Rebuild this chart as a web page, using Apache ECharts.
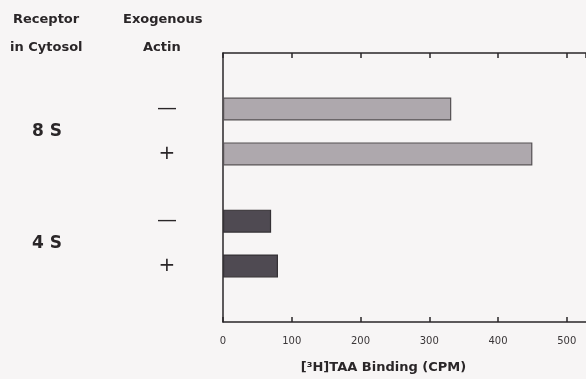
<!DOCTYPE html>
<html><head><meta charset="utf-8">
<script src="https://cdn.jsdelivr.net/npm/echarts@6/dist/echarts.min.js"></script>
<style>html,body{margin:0;padding:0;background:#f7f5f5}#c{width:586px;height:379px}</style>
</head><body><div id="c"></div>
<script>
const receptorGroups = ['8 S', '4 S'];
const actinLevels = ['\u2014', '+'];
const bindingCPM = [332, 450, 70, 80];
const xTicks = [0, 100, 200, 300, 400, 500];
const xTitle = '[\u00B3H]TAA Binding (CPM)';
const headers = [['Receptor', 'in Cytosol'], ['Exogenous', 'Actin']];

// slot layout along the category axis
const nSlots = 12;
const barSlots = [2, 4, 7, 9];
const groupSlots = [3, 8];
const slotNames = Array.from({length: nSlots}, (_, i) => 's' + i);
const actinLabels = Array(nSlots).fill('');
const groupLabels = Array(nSlots).fill('');
barSlots.forEach((s, i) => { actinLabels[s] = actinLevels[i % 2]; });
groupSlots.forEach((s, i) => { groupLabels[s] = receptorGroups[i]; });
const barColors = ['#aea8ad', '#aea8ad', '#4f4a52', '#4f4a52'];
const seriesData = Array(nSlots).fill(null);
barSlots.forEach((s, i) => {
  seriesData[s] = {value: bindingCPM[i], itemStyle: {color: barColors[i], borderColor: i < 2 ? '#555053' : '#353135', borderWidth: 1.2}};
});

const chart = echarts.init(document.getElementById('c'));
const font = 'DejaVu Sans, Verdana, sans-serif';
chart.setOption({
  backgroundColor: '#f7f5f5',
  animation: false,
  grid: {left: 223, top: 53, right: 0, bottom: 55},
  xAxis: [{
    type: 'value', min: 0, max: 528, interval: 100, position: 'bottom',
    axisLine: {show: true, lineStyle: {color: '#2a2628', width: 1.5}},
    axisTick: {show: true, inside: true, length: 5, lineStyle: {color: '#2a2628', width: 1.5}},
    splitLine: {show: false},
    axisLabel: {showMaxLabel: false, color: '#3a3638', fontFamily: font, fontSize: 10, margin: 14,
      formatter: v => xTicks.includes(v) ? String(v) : ''},
    name: xTitle, nameLocation: 'middle', nameGap: 39,
    nameTextStyle: {color: '#2a2628', fontFamily: font, fontSize: 13, fontWeight: 'bold', padding: [0, 42, 0, 0]}
  }, {
    type: 'value', min: 0, max: 528, interval: 100, position: 'top',
    axisLine: {show: true, lineStyle: {color: '#2a2628', width: 1.5}},
    axisTick: {show: true, inside: true, length: 5, lineStyle: {color: '#2a2628', width: 1.5}},
    splitLine: {show: false}, axisLabel: {show: false}
  }],
  yAxis: [{
    type: 'category', inverse: true, data: slotNames, position: 'left',
    axisLine: {show: true, lineStyle: {color: '#2a2628', width: 1.5}},
    axisTick: {show: false},
    axisLabel: {interval: 0, margin: 56, align: 'center', color: '#2a2628', fontFamily: font, fontSize: 20,
      formatter: (v, i) => actinLabels[i]}
  }, {
    type: 'category', inverse: true, data: slotNames, position: 'left',
    axisLine: {show: false}, axisTick: {show: false},
    axisLabel: {interval: 0, margin: 176, align: 'center', color: '#2a2628', fontFamily: font, fontSize: 17, fontWeight: 'bold',
      formatter: (v, i) => groupLabels[i]}
  }],
  series: [{
    type: 'bar', xAxisIndex: 0, yAxisIndex: 0, barWidth: 23, data: seriesData
  }],
  graphic: [
    {type: 'text', left: 13, top: 13, style: {text: headers[0][0], font: 'bold 13px ' + font, fill: '#2a2628'}},
    {type: 'text', left: 10, top: 41, style: {text: headers[0][1], font: 'bold 13px ' + font, fill: '#2a2628'}},
    {type: 'text', left: 123, top: 13, style: {text: headers[1][0], font: 'bold 13px ' + font, fill: '#2a2628'}},
    {type: 'text', left: 143, top: 41, style: {text: headers[1][1], font: 'bold 13px ' + font, fill: '#2a2628'}}
  ]
});
</script></body></html>
